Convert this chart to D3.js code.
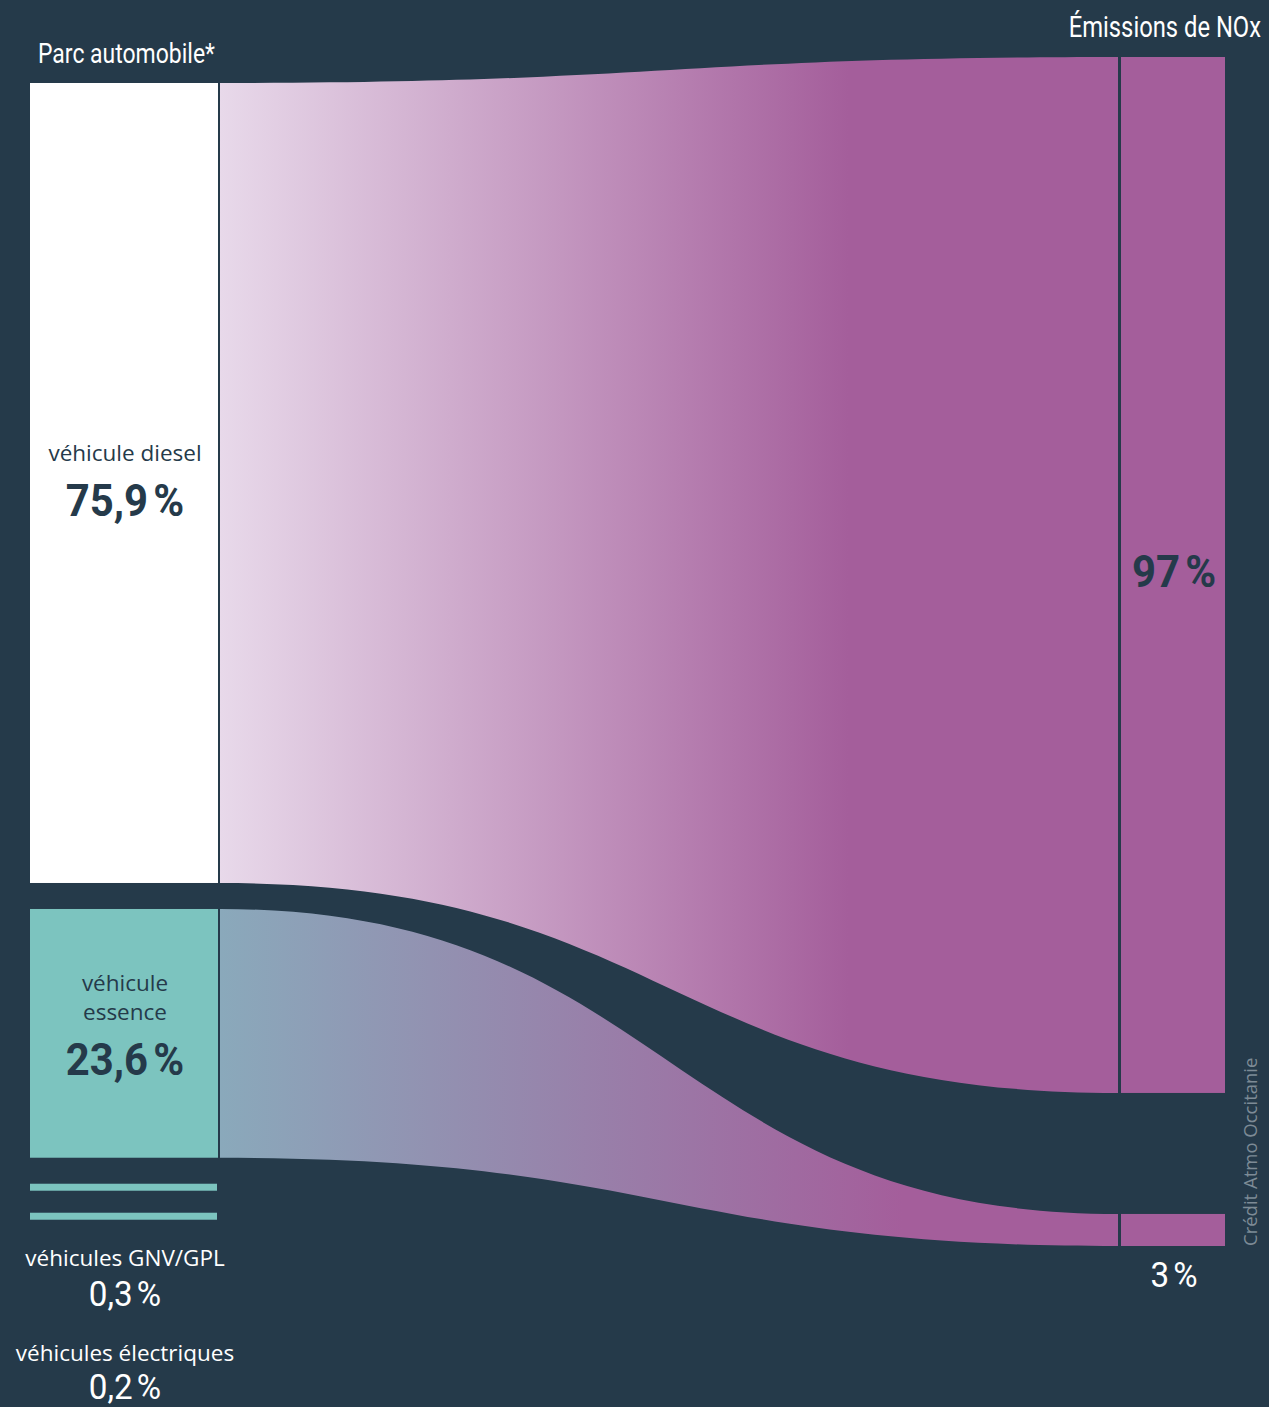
<!DOCTYPE html>
<html><head><meta charset="utf-8">
<script src="https://cdn.jsdelivr.net/npm/d3@7"></script>
<style>
html,body{margin:0;padding:0;background:#253a4a;}
svg{display:block;}
.narrow{font-family:Roboto,"Liberation Sans",sans-serif;}
.sans{font-family:"Open Sans","Noto Sans",sans-serif;}
</style></head>
<body>
<svg id="chart" width="1269" height="1407"></svg>
<script>
// ---- data ----
const parcCategories = ["véhicule diesel", "véhicule essence", "véhicules GNV/GPL", "véhicules électriques"];
const parcValues = [75.9, 23.6, 0.3, 0.2];
const parcLabels = ["75,9\u202F%", "23,6\u202F%", "0,3\u202F%", "0,2\u202F%"];
const noxCategories = ["diesel", "essence"];
const noxValues = [97, 3];
const noxLabels = ["97\u202F%", "3\u202F%"];
const titles = ["Parc automobile*", "Émissions de NOx"];
const credit = "Crédit Atmo Occitanie";

const W = 1269, H = 1407;
const bg = "#253a4a", purple = "#a45e9b", teal = "#7cc4bf";
const svg = d3.select("#chart");
svg.append("rect").attr("width", W).attr("height", H).attr("fill", bg);

// scales
const x = d3.scalePoint().domain(["parc", "nox"]).range([30, 1121]);
const leftW = 188, rightW = 104;
const yLeft = d3.scaleLinear().domain([0, 100]).range([0, 1054]);
const yRight = d3.scaleLinear().domain([0, 100]).range([0, 1068]);
const minH = 7;

// left nodes layout
const leftTop = 83, leftGap = [26, 26, 22];
let cur = leftTop;
const leftNodes = parcValues.map((v, i) => {
  const h = Math.max(minH, yLeft(v));
  const n = {y0: cur, y1: cur + h};
  cur += h + (leftGap[i] || 0);
  return n;
});
// right nodes layout
const rightTop = 57, rightGap = [121];
cur = rightTop;
const rightNodes = noxValues.map((v, i) => {
  const h = yRight(v);
  const n = {y0: cur, y1: cur + h};
  cur += h + (rightGap[i] || 0);
  return n;
});

// gradients
const defs = svg.append("defs");
const lx0 = x("parc") + leftW + 2, lx1 = x("nox") - 3;
const grads = [
  {id: "gDiesel", c0: "#e8d9ea", stop: 0.70},
  {id: "gEssence", c0: "#8aa9bb", stop: 0.76}
];
grads.forEach(g => {
  const lg = defs.append("linearGradient").attr("id", g.id)
    .attr("gradientUnits", "userSpaceOnUse")
    .attr("x1", lx0).attr("x2", lx1).attr("y1", 0).attr("y2", 0);
  lg.append("stop").attr("offset", 0).attr("stop-color", g.c0);
  lg.append("stop").attr("offset", g.stop).attr("stop-color", purple);
  lg.append("stop").attr("offset", 1).attr("stop-color", purple);
});

// links
function band(a, b) {
  const xm = (lx0 + lx1) / 2;
  const p = d3.path();
  p.moveTo(lx0, a.y0);
  p.bezierCurveTo(xm, a.y0, xm, b.y0, lx1, b.y0);
  p.lineTo(lx1, b.y1);
  p.bezierCurveTo(xm, b.y1, xm, a.y1, lx0, a.y1);
  p.closePath();
  return p.toString();
}
noxValues.forEach((v, i) => {
  svg.append("path").attr("d", band(leftNodes[i], rightNodes[i]))
    .attr("fill", `url(#${grads[i].id})`);
});

// left nodes
const leftColors = ["#ffffff", teal, teal, teal];
leftNodes.forEach((n, i) => {
  svg.append("rect").attr("x", x("parc")).attr("y", n.y0)
    .attr("width", leftW - (i >= 2 ? 1 : 0)).attr("height", n.y1 - n.y0)
    .attr("fill", leftColors[i]);
});
// right nodes
rightNodes.forEach(n => {
  svg.append("rect").attr("x", x("nox")).attr("y", n.y0)
    .attr("width", rightW).attr("height", n.y1 - n.y0).attr("fill", purple);
});

const cxL = x("parc") + leftW / 2 + 1;
const cxR = x("nox") + rightW / 2 + 1;

// helper for condensed text
function ntext(tx, ty, sx, size, weight, fill, anchor, txt) {
  svg.append("text").attr("class", "narrow")
    .attr("transform", `translate(${tx},${ty}) scale(${sx},1)`)
    .attr("text-anchor", anchor).attr("font-size", size)
    .attr("font-weight", weight).attr("fill", fill).text(txt);
}
function stext(tx, ty, size, fill, txt) {
  svg.append("text").attr("class", "sans").attr("x", tx).attr("y", ty)
    .attr("text-anchor", "middle").attr("font-size", size).attr("fill", fill).text(txt);
}

// titles
ntext(38, 63, 0.82, 28, "normal", "#ffffff", "start", titles[0]);
ntext(1261, 37, 0.82, 29, "normal", "#ffffff", "end", titles[1]);

// diesel labels
stext(cxL, 461, 22.5, bg, parcCategories[0]);
ntext(cxL, 516, 0.93, 45, "bold", bg, "middle", parcLabels[0]);

// essence labels
const ess = parcCategories[1].split(" ");
stext(cxL, 991, 22.5, bg, ess[0]);
stext(cxL, 1020, 22.5, bg, ess[1]);
ntext(cxL, 1075, 0.93, 45, "bold", bg, "middle", parcLabels[1]);

// small categories
stext(cxL, 1266, 22.5, "#ffffff", parcCategories[2]);
ntext(cxL, 1306, 0.95, 35, "normal", "#ffffff", "middle", parcLabels[2]);
stext(cxL, 1361, 22.5, "#ffffff", parcCategories[3]);
ntext(cxL, 1399, 0.95, 35, "normal", "#ffffff", "middle", parcLabels[3]);

// right labels
ntext(cxR, 587, 0.93, 45, "bold", bg, "middle", noxLabels[0]);
ntext(cxR, 1287, 0.95, 35, "normal", "#ffffff", "middle", noxLabels[1]);

// credit
svg.append("text").attr("class", "sans")
  .attr("transform", "translate(1257,1246) rotate(-90)")
  .attr("font-size", 18.5).attr("fill", "#7d8b96").text(credit);
</script>
</body></html>
